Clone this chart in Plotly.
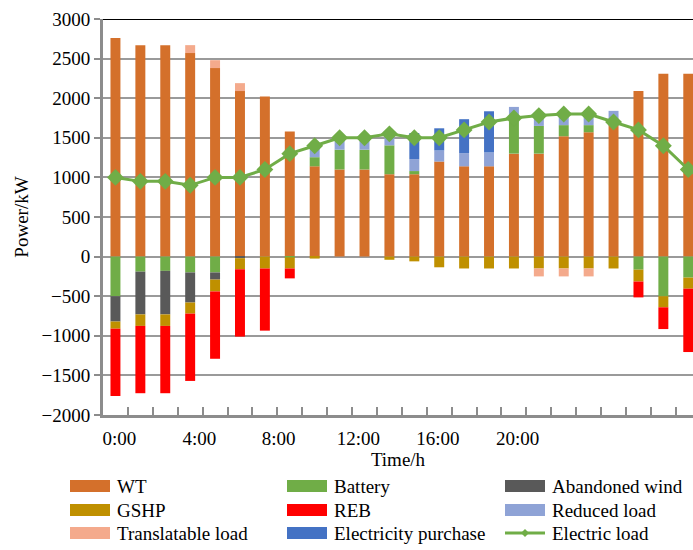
import plotly.graph_objects as go

# Hourly dispatch of the integrated energy system (kW)
hours = list(range(24))
tick_positions = [0.16, 3.37, 6.55, 9.75, 12.95, 16.15]
tick_labels = ["0:00", "4:00", "8:00", "12:00", "16:00", "20:00"]

wt = [2760, 2670, 2670, 2570, 2380, 2090, 2020, 1580, 1140, 1100, 1100, 1040,
      1040, 1200, 1140, 1140, 1300, 1300, 1520, 1570, 1670, 2090, 2310, 2310]
battery = [-500, -190, -180, -200, -200, 0, 0, -10, 115, 250, 250, 365,
           40, 0, 0, 0, 480, 350, 140, 90, 0, -165, -500, -265]
abandoned_wind = [-320, -540, -550, -380, -90, -20, 0, 0, 0, 0, 0, 0,
                  0, 0, 0, 0, 0, 0, 0, 0, 0, 0, 0, 0]
gshp = [-90, -145, -145, -140, -150, -140, -150, -140, -25, 0, 0, -40,
        -60, -135, -150, -150, -150, -150, -150, -150, -150, -150, -140, -140]
reb = [-850, -850, -850, -850, -850, -850, -785, -125, 0, 0, 0, 0,
       0, 0, 0, 0, 0, 0, 0, 0, 0, -200, -275, -800]
reduced_load = [0, 0, 0, 0, 0, 0, 0, 0, 145, 145, 150, 150,
                150, 140, 165, 175, 110, 175, 175, 175, 170, 0, 0, 0]
translatable_load = [0, 0, 0, 100, 100, 100, 0, 0, 0, 0, 0, 0,
                     0, 0, 0, 0, 0, -100, -100, -100, 0, 0, 0, 0]
purchase = [0, 0, 0, 0, 0, 0, 0, 0, 0, 0, 0, 0,
            330, 280, 430, 520, 0, 0, 0, 0, 0, 0, 0, 0]
electric_load = [1000, 950, 950, 900, 1000, 1000, 1100, 1300, 1400, 1500, 1500, 1550,
                 1500, 1500, 1600, 1700, 1750, 1780, 1800, 1800, 1700, 1600, 1400, 1100]

bar_series = [
    ("WT", wt, "#D4702B"),
    ("Battery", battery, "#70AD47"),
    ("Abandoned wind", abandoned_wind, "#595959"),
    ("GSHP", gshp, "#BF9000"),
    ("REB", reb, "#FF0000"),
    ("Reduced load", reduced_load, "#8FA3D6"),
    ("Translatable load", translatable_load, "#F4AA8C"),
    ("Electricity purchase", purchase, "#4472C4"),
]
LOAD_COLOR = "#70AD47"
FONT = "Liberation Serif"
GRID = "#9A9A9A"

fig = go.Figure()
for name, vals, color in bar_series:
    fig.add_trace(go.Bar(x=hours, y=vals, name=name, marker_color=color,
                         marker_line_width=0, width=0.4, showlegend=False))
fig.add_trace(go.Scatter(x=hours, y=electric_load, name="Electric load",
                         mode="lines+markers",
                         line=dict(color=LOAD_COLOR, width=3),
                         marker=dict(symbol="diamond", size=13, color=LOAD_COLOR),
                         showlegend=False))

# plot-area geometry in pixels (used for the hand-built legend)
W, H = 693, 550
ML, MR, MT, MB = 103, 0, 19, 135
PW, PH = W - ML - MR, H - MT - MB


def px_x(px):
    return (px - ML) / PW


def px_y(py):
    return (H - MB - py) / PH


fig.update_layout(
    width=W, height=H,
    margin=dict(l=ML, r=MR, t=MT, b=MB),
    barmode="relative",
    bargap=0.6,
    plot_bgcolor="white", paper_bgcolor="white",
    font=dict(family=FONT, size=19, color="black"),
    showlegend=False,
)
fig.update_xaxes(
    range=[-0.5, 23.19],
    tickmode="array", tickvals=tick_positions, ticktext=tick_labels,
    ticks="", showgrid=False, zeroline=False,
    showline=True, linecolor="#8C8C8C", linewidth=3,
    ticklabelstandoff=4,
    minor=dict(tickmode="array", tickvals=[h + 0.5 for h in hours],
               ticks="inside", ticklen=8, tickwidth=2, tickcolor="#8C8C8C",
               showgrid=False),
    title=dict(text="Time/h", font=dict(family=FONT, size=19), standoff=0),
)
fig.update_yaxes(
    range=[-2000, 3000], dtick=500, tick0=0,
    ticks="outside", ticklen=6, tickwidth=2, tickcolor="#8C8C8C",
    showgrid=True, gridcolor=GRID, gridwidth=2, zeroline=False,
    showline=True, linecolor="#8C8C8C", linewidth=3,
    title=dict(text="Power/kW", font=dict(family=FONT, size=19), standoff=8),
)

# dark frame line along the top of the plot area
fig.add_shape(type="line", xref="paper", yref="y", x0=0, x1=1, y0=3000, y1=3000,
              line=dict(color="black", width=2))

# legend: three columns, three rows
legend_items = [(n, c) for n, _, c in bar_series] + [("Electric load", LOAD_COLOR)]
col_px = [70, 287, 505]
row_px = [486, 510, 533]
for i, (name, color) in enumerate(legend_items):
    cx = col_px[i % 3]
    ry = row_px[i // 3]
    if name == "Electric load":
        fig.add_shape(type="line", xref="paper", yref="paper",
                      x0=px_x(cx), x1=px_x(cx + 40), y0=px_y(ry), y1=px_y(ry),
                      line=dict(color=color, width=3))
        fig.add_shape(type="path", xref="paper", yref="paper",
                      path="M {a},{m} L {b},{t} L {c},{m} L {b},{d} Z".format(
                          a=px_x(cx + 16), b=px_x(cx + 20), c=px_x(cx + 24),
                          m=px_y(ry), t=px_y(ry - 4), d=px_y(ry + 4)),
                      fillcolor=color, line=dict(width=0))
    else:
        fig.add_shape(type="rect", xref="paper", yref="paper",
                      x0=px_x(cx), x1=px_x(cx + 40),
                      y0=px_y(ry + 6), y1=px_y(ry - 6),
                      fillcolor=color, line=dict(width=0))
    fig.add_annotation(text=name, xref="paper", yref="paper",
                       x=px_x(cx + 45), y=px_y(ry), xanchor="left", yanchor="middle",
                       showarrow=False, font=dict(family=FONT, size=19, color="black"))

fig.write_html("out.html")
